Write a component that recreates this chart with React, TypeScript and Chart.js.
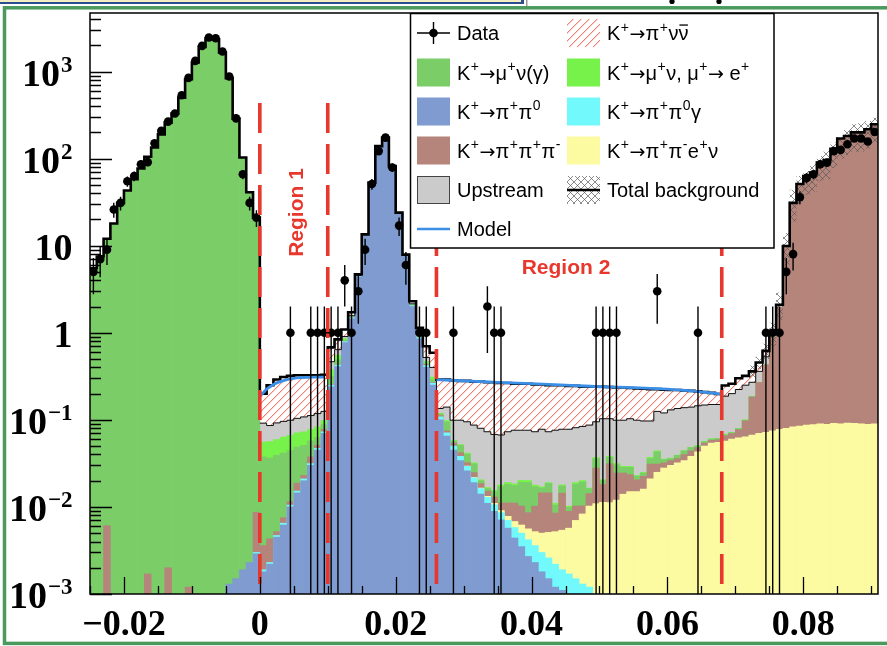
import React, { useEffect, useRef } from 'react';
import { Chart, registerables } from 'chart.js';

Chart.register(...registerables);

// ---------------- axis / binning ----------------
const X_MIN = -0.025;
const X_MAX = 0.091;
const BIN_W = 0.001;
const Y_MIN = 1e-3;
const Y_MAX = 4700;
const binLow: number[] = Array.from({ length: 116 }, (_, i) => Math.round((X_MIN + BIN_W * i) * 1e6) / 1e6);

const xTickValues = [-0.02, 0, 0.02, 0.04, 0.06, 0.08];
const xTickLabels = ['\u22120.02', '0', '0.02', '0.04', '0.06', '0.08'];
const yTickValues = [1e-3, 1e-2, 1e-1, 1, 10, 100, 1000];
const yTickBase = ['10', '10', '10', '1', '10', '10', '10'];
const yTickExp = ['\u22123', '\u22122', '\u22121', '', '', '2', '3'];
const regionEdges = [0, 0.01, 0.026, 0.068];

// ---------------- series (per 0.001 bin, own contribution) ----------------
const pp0 = [
  0, 0, 0, 0, 0, 0, 0, 0, 0, 0,
  0, 0, 0, 0, 0, 0, 0, 0, 0, 0,
  0.0013, 0.0015, 0.0019, 0.0023, 0.0029, 0.0018, 0.0022, 0.0045, 0.0062, 0.010,
  0.0145, 0.020, 0.030, 0.045, 0.07, 0.24, 0.41, 0.77, 1.45, 4.4,
  13.2, 52.6, 138.5, 173.5, 81.5, 23.6, 7.6, 2.0, 0.85, 0.40,
  0.25, 0.10, 0.065, 0.045, 0.034, 0.026, 0.019, 0.014, 0.011, 0.0089,
  0.0071, 0.0057, 0.0044, 0.0035, 0.0027, 0.0023, 0.0018, 0.0015, 0.0012, 0.0011,
  0.001, 0.0009, 0.0008, 0.0007, 0, 0, 0, 0, 0, 0,
  0, 0, 0, 0, 0, 0, 0, 0, 0, 0,
  0, 0, 0, 0, 0, 0, 0, 0, 0, 0,
  0, 0, 0, 0, 0, 0, 0, 0, 0, 0,
  0, 0, 0, 0, 0, 0,
];
const pp0g = [
  0, 0, 0, 0, 0, 0, 0, 0, 0, 0,
  0, 0, 0, 0, 0, 0, 0, 0, 0, 0,
  0, 0, 0, 0, 0.0001, 0.0001, 0.0001, 0.0002, 0.0003, 0.0005,
  0.0007, 0.001, 0.0015, 0.002, 0.003, 0.01, 0.015, 0.02, 0.03, 0.05,
  0.1, 0.2, 0.3, 0.3, 0.3, 0.2, 0.1, 0.05, 0.03, 0.02,
  0.015, 0.008, 0.006, 0.005, 0.004, 0.0032, 0.0026, 0.0022, 0.0019, 0.0017,
  0.0015, 0.0013, 0.0014, 0.0015, 0.0015, 0.0013, 0.0012, 0.0011, 0.001, 0.0008,
  0.0007, 0.0006, 0.0005, 0.0005, 0.0004, 0.0003, 0.0002, 0, 0, 0,
  0, 0, 0, 0, 0, 0, 0, 0, 0, 0,
  0, 0, 0, 0, 0, 0, 0, 0, 0, 0,
  0, 0, 0, 0, 0, 0, 0, 0, 0, 0,
  0, 0, 0, 0, 0, 0,
];
const ke4 = [
  0, 0, 0, 0, 0, 0, 0, 0, 0, 0,
  0, 0, 0, 0, 0, 0, 0, 0, 0, 0,
  0, 0, 0, 0, 0, 0, 0, 0, 0, 0,
  0, 0, 0, 0, 0, 0, 0, 0, 0, 0,
  0, 0, 0, 0, 0, 0, 0, 0, 0, 0,
  0, 0, 0, 0, 0, 0.0002, 0.0002, 0.0003, 0.0003, 0.0004,
  0.0005, 0.0008, 0.001, 0.0012, 0.0014, 0.0016, 0.002, 0.0025, 0.003, 0.0035,
  0.004, 0.0055, 0.007, 0.009, 0.0105, 0.011, 0.011, 0.012, 0.014, 0.015,
  0.015, 0.016, 0.021, 0.025, 0.028, 0.03, 0.032, 0.034, 0.038, 0.043,
  0.05, 0.054, 0.055, 0.057, 0.06, 0.062, 0.064, 0.067, 0.07, 0.072,
  0.075, 0.078, 0.08, 0.083, 0.085, 0.087, 0.088, 0.09, 0.089, 0.091,
  0.09, 0.092, 0.091, 0.09, 0.089, 0.09,
];
const k3pi = [
  0, 0, 0.0061, 0, 0, 0, 0, 0, 0.0017, 0,
  0, 0.002, 0, 0, 0.0012, 0, 0, 0, 0, 0,
  0, 0, 0, 0, 0.0057, 0.0017, 0.002, 0.0005, 0.001, 0.001,
  0.0035, 0.002, 0.006, 0.004, 0.005, 0.005, 0.005, 0.005, 0.01, 0.01,
  0.01, 0.02, 0.02, 0.02, 0.02, 0.01, 0.01, 0.01, 0.01, 0.01,
  0.005, 0.004, 0.004, 0.004, 0.004, 0.003, 0.003, 0.002, 0.002, 0.002,
  0.002, 0.0033, 0.0043, 0.004, 0.003, 0.005, 0.0095, 0.0094, 0.0033, 0.009,
  0.0032, 0.0032, 0.002, 0.004, 0.017, 0.0068, 0.020, 0.0125, 0.0105, 0.0085,
  0.0055, 0.0065, 0.01, 0.006, 0.004, 0.004, 0.004, 0.006, 0.006, 0.005,
  0.004, 0.004, 0.004, 0.0085, 0.0095, 0.0155, 0.0335, 0.1155, 0.1975, 0.3555,
  0.8125, 1.88, 9.69, 30.8, 50.8, 62.8, 68.8, 89.8, 95.8, 129.8,
  169.8, 181.8, 199.8, 199.8, 216.8, 247.8,
];
const mu2 = [
  5.5, 7.5, 12, 18, 31, 43, 58, 77, 105, 134,
  190, 259, 329, 502, 815, 1268, 1919, 2394, 2350, 1652,
  840, 288, 103, 41, 21, 0.034, 0.032, 0.034, 0.034, 0.033,
  0.03, 0.028, 0.02, 0.012, 0.01, 0.06, 0.06, 0.03, 0.02, 0.02,
  0.02, 0.02, 0.02, 0.02, 0.02, 0.02, 0.02, 0.02, 0.02, 0.02,
  0.02, 0.005, 0.02, 0.003, 0.009, 0.008, 0.0065, 0.0015, 0.001, 0.002,
  0.006, 0.007, 0.0065, 0.009, 0.0105, 0.0068, 0.002, 0.004, 0.002, 0.003,
  0.001, 0.008, 0.009, 0.002, 0.008, 0.002, 0.006, 0.006, 0.004, 0.005,
  0.002, 0.002, 0.005, 0.012, 0.003, 0.002, 0.003, 0.004, 0.004, 0.002,
  0.002, 0.002, 0.002, 0.002, 0.002, 0.002, 0.002, 0.002, 0.002, 0.002,
  0.002, 0.002, 0.002, 0.002, 0.002, 0.002, 0.002, 0.002, 0.002, 0.002,
  0.002, 0.002, 0.002, 0.002, 0.002, 0.002,
];
const mu2e = [
  0, 0, 0, 0, 0, 0, 0, 0, 0, 0,
  0, 0, 0, 0, 0, 0, 0, 0, 0, 0,
  0, 0, 0, 0, 0, 0.018, 0.02, 0.02, 0.022, 0.022,
  0.022, 0.022, 0.02, 0.02, 0.01, 0.06, 0.06, 0.03, 0.02, 0.02,
  0.02, 0.01, 0.01, 0.01, 0.01, 0.01, 0.01, 0.02, 0.02, 0.02,
  0.02, 0.002, 0.003, 0.001, 0.001, 0.001, 0.0008, 0.0005, 0.0005, 0.0005,
  0.0008, 0.001, 0.0008, 0.001, 0.001, 0.0008, 0.0005, 0.0005, 0.0005, 0.0005,
  0.0003, 0.0008, 0.0008, 0.0003, 0.001, 0.0005, 0.001, 0.001, 0.0008, 0.0008,
  0.0005, 0.0005, 0.001, 0.001, 0.0005, 0.0005, 0.0005, 0.0005, 0.0005, 0.0005,
  0.0005, 0.0005, 0.0005, 0.0005, 0.0005, 0.0005, 0.0005, 0.0005, 0.0005, 0.0005,
  0.0005, 0.0005, 0.0005, 0.0005, 0.0005, 0.0005, 0.0005, 0.0005, 0.0005, 0.0005,
  0.0005, 0.0005, 0.0005, 0.0005, 0.0005, 0.0005,
];
const upstream = [
  0, 0, 0, 0, 0, 0, 0, 0, 0, 0,
  0, 0, 0, 0, 0, 0, 0, 0, 0, 0,
  0, 0, 0, 0, 0, 0.036, 0.0297, 0.033, 0.0325, 0.0325,
  0.0333, 0.035, 0.0345, 0.035, 0.027, 0.09, 0.09, 0.05, 0.04, 0.05,
  0.05, 0.05, 0.05, 0.05, 0.05, 0.05, 0.05, 0.05, 0.05, 0.05,
  0.09, 0.016, 0.042, 0.041, 0.047, 0.0536, 0.0549, 0.0595, 0.0563, 0.0525,
  0.0491, 0.0539, 0.0576, 0.0558, 0.0559, 0.0552, 0.061, 0.054, 0.065, 0.0601,
  0.0678, 0.0622, 0.0639, 0.0705, 0.0581, 0.0824, 0.0648, 0.0675, 0.0697, 0.0737,
  0.076, 0.072, 0.06, 0.081, 0.0845, 0.0935, 0.0955, 0.0935, 0.0915, 0.0945,
  0.0915, 0.0895, 0.0885, 0.119, 0.128, 0.143, 0.15, 0.085, 0.09, 0.10,
  0.1, 0.1, 0.1, 0.1, 0.1, 0.1, 0.1, 0.1, 0.1, 0.1,
  0.1, 0.1, 0.1, 0.1, 0.1, 0.1,
];
const pnn = [
  0, 0, 0, 0, 0, 0, 0, 0, 0, 0,
  0, 0, 0, 0, 0, 0, 0, 0, 0, 0,
  0, 0, 0, 0, 0, 0.108, 0.164, 0.198, 0.214, 0.221,
  0.221, 0.217, 0.213, 0.207, 0.205, 0.215, 0.2, 0.185, 0.15, 0.15,
  0.1, 0.1, 0.1, 0.1, 0.1, 0.1, 0.1, 0.15, 0.16, 0.18,
  0.19, 0.155, 0.15, 0.186, 0.181, 0.185, 0.188, 0.195, 0.197, 0.202,
  0.198, 0.192, 0.184, 0.184, 0.184, 0.182, 0.177, 0.177, 0.174, 0.172,
  0.167, 0.164, 0.156, 0.153, 0.145, 0.137, 0.135, 0.136, 0.136, 0.129,
  0.131, 0.131, 0.128, 0.10, 0.102, 0.09, 0.085, 0.08, 0.075, 0.067,
  0.06, 0.054, 0.048, 0.061, 0.06, 0.077, 0.07, 0.09, 0.095, 0.09,
  0.06, 0.04, 0.03, 0.02, 0.02, 0.02, 0.02, 0.02, 0.02, 0.02,
  0.02, 0.02, 0.02, 0.02, 0.02, 0.02,
];
const dataCounts = [
  5, 7, 9, 26, 31, 55, 63, 86, 91, 150,
  208, 266, 329, 534, 845, 1324, 1972, 2460, 2415, 1698,
  876, 290, 66, 31, 21, 0, 0, 0, 0, 1,
  0, 0, 1, 1, 1, 1, 1, 4, 1, 3,
  9, 51, 122, 174, 79, 17, 6, 0, 1, 1,
  0, 0, 0, 1, 0, 0, 0, 0, 2, 1,
  1, 0, 0, 0, 0, 0, 0, 0, 0, 0,
  0, 0, 0, 0, 1, 1, 1, 1, 0, 0,
  0, 0, 0, 3, 0, 0, 0, 0, 0, 1,
  0, 0, 0, 0, 0, 0, 0, 0, 0, 1,
  1, 1, 5, 8, 36, 60, 66, 86, 90, 122,
  126, 146, 170, 170, 157, 202,
];
// total background uncertainty band, bins 97..115
const bandFirstBin = 97;
const bandLo = [0.3, 0.38, 0.5, 0.7, 1.4, 6, 19, 30, 38, 42, 55, 58, 78, 100, 110, 120, 120, 130, 150];
const bandHi = [0.42, 0.53, 0.75, 1.3, 2.9, 14, 44, 63, 72, 86, 107, 122, 153, 182, 217, 248, 255, 270, 295];
// model curve
const modelX1 = [0, 0.0005, 0.001, 0.0015, 0.002, 0.003, 0.004, 0.005, 0.006, 0.008, 0.0095];
const modelY1 = [0.185, 0.205, 0.225, 0.24, 0.255, 0.275, 0.29, 0.30, 0.305, 0.31, 0.31];
const modelX2 = [0.026, 0.028, 0.03, 0.035, 0.04, 0.045, 0.05, 0.055, 0.06, 0.065, 0.068];
const modelY2 = [0.29, 0.285, 0.28, 0.27, 0.26, 0.25, 0.24, 0.235, 0.225, 0.21, 0.197];

const legendLabels = [
  'Data', 'K^{+}\u2192\u03c0^{+}\u03bd\\bar{\u03bd}',
  'K^{+}\u2192\u03bc^{+}\u03bd(\u03b3)', 'K^{+}\u2192\u03bc^{+}\u03bd, \u03bc^{+}\u2192 e^{+}',
  'K^{+}\u2192\u03c0^{+}\u03c0^{0}', 'K^{+}\u2192\u03c0^{+}\u03c0^{0}\u03b3',
  'K^{+}\u2192\u03c0^{+}\u03c0^{+}\u03c0^{-}', 'K^{+}\u2192\u03c0^{+}\u03c0^{-}e^{+}\u03bd',
  'Upstream', 'Total background', 'Model',
];

// ---------------- styles ----------------
const C_MU2 = '#7bcd68';
const C_MU2E = '#77f24b';
const C_PP0 = '#7f9bcf';
const C_PP0G = '#72f9fb';
const C_KE4 = '#fdfba2';
const C_K3PI = '#b5847a';
const C_UP = '#cbcbcb';
const C_MODEL = '#3b8fe6';
const C_RED = '#e8372c';
const SERIF = '"Liberation Serif", "Times New Roman", serif';
const SANS = '"Liberation Sans", Arial, Helvetica, sans-serif';
const ARROW_FONT = '"DejaVu Sans", "Liberation Sans", sans-serif';

function makeHatch(ctx: CanvasRenderingContext2D, cross: boolean) {
  const c = document.createElement('canvas');
  const s = cross ? 7 : 8;
  c.width = s; c.height = s;
  const g = c.getContext('2d')!;
  if (!cross) { g.fillStyle = '#ffffff'; g.fillRect(0, 0, s, s); }
  for (let i = 0; i < s; i++) {
    if (cross) {
      g.fillStyle = 'rgba(90,90,90,0.7)';
      g.fillRect(i, s - 1 - i, 1, 1);
      g.fillRect(i, i, 1, 1);
    } else {
      g.fillStyle = 'rgb(244,128,116)';
      g.fillRect(i, s - 1 - i, 1, 1);
      g.fillStyle = 'rgba(244,128,116,0.35)';
      g.fillRect((i + 1) % s, s - 1 - i, 1, 1);
    }
  }
  return ctx.createPattern(c, 'repeat')!;
}

function drawRich(c: CanvasRenderingContext2D, s: string, x: number, y: number, size: number) {
  const base = `${size}px ${SANS}`;
  const sup = `${Math.round(size * 0.68)}px ${SANS}`;
  const arrow = `${Math.round(size * 0.95)}px ${ARROW_FONT}`;
  const re = /\^\{([^}]*)\}|\\bar\{([^}]*)\}|(\u2192)/g;
  let last = 0;
  let cx = x;
  let m: RegExpExecArray | null;
  c.textAlign = 'left';
  c.textBaseline = 'alphabetic';
  while ((m = re.exec(s))) {
    const plain = s.slice(last, m.index);
    c.font = base; c.fillText(plain, cx, y); cx += c.measureText(plain).width;
    if (m[1] !== undefined) {
      c.font = sup; c.fillText(m[1], cx + 0.5, y - size * 0.42); cx += c.measureText(m[1]).width + 1;
    } else if (m[2] !== undefined) {
      c.font = base;
      const w = c.measureText(m[2]).width;
      c.fillText(m[2], cx, y);
      c.fillRect(cx + 1, y - size * 0.78, w - 1.5, 1.3);
      cx += w;
    } else {
      c.font = arrow; c.fillText(m[3], cx, y); cx += c.measureText(m[3]).width;
    }
    last = re.lastIndex;
  }
  c.font = base; c.fillText(s.slice(last), cx, y);
}

export default function App() {
  const ref = useRef<HTMLCanvasElement>(null);

  useEffect(() => {
    const canvas = ref.current!;
    const ctx = canvas.getContext('2d')!;
    const hatch = makeHatch(ctx, false);
    const crossHatch = makeHatch(ctx, true);

    const N = binLow.length;
    const centers = binLow.map((e) => e + BIN_W / 2);
    const layers = [pp0, pp0g, ke4, k3pi, mu2, mu2e, upstream, pnn];
    const layerColors: any[] = [C_PP0, C_PP0G, C_KE4, C_K3PI, C_MU2, C_MU2E, C_UP, hatch];
    const cum: number[][] = [];
    layers.forEach((arr, k) => cum.push(arr.map((v, i) => v + (k ? cum[k - 1][i] : 0))));
    const total = cum[layers.length - 1];

    const stepPts = (vals: number[], from: number, to: number) => {
      const pts: any[] = [];
      for (let i = from; i <= to; i++) pts.push({ x: binLow[i], y: vals[i] });
      pts.push({ x: binLow[to] + BIN_W, y: vals[to] });
      return pts;
    };

    const barSets = layers.map((arr, k) => ({
      type: 'bar',
      data: centers.map((x, i) => ({ x, y: arr[i] > 0 ? cum[k][i] : null })),
      backgroundColor: layerColors[k],
      borderWidth: 0,
      barPercentage: 1,
      categoryPercentage: 1,
      order: 10 + k,
    }));

    const bandLoFull = bandLo.concat([bandLo[bandLo.length - 1]]);
    const bandHiFull = bandHi.concat([bandHi[bandHi.length - 1]]);
    const bandXs = bandLo.map((_, j) => binLow[bandFirstBin + j]).concat([binLow[bandFirstBin + bandLo.length - 1] + BIN_W]);

    const lineCommon = { type: 'line', pointRadius: 0, stepped: true, fill: false, spanGaps: false };

    const datasets: any[] = [
      ...barSets,
      { ...lineCommon, data: bandXs.map((x, j) => ({ x, y: bandLoFull[j] })), borderWidth: 0, borderColor: 'rgba(0,0,0,0)', order: 7 },
      { ...lineCommon, data: bandXs.map((x, j) => ({ x, y: bandHiFull[j] })), borderWidth: 0, borderColor: 'rgba(0,0,0,0)', backgroundColor: crossHatch, fill: '-1', order: 6 },
      { ...lineCommon, data: stepPts(cum[6], 25, 101), borderColor: '#111', borderWidth: 1, order: 5 },
      { ...lineCommon, data: stepPts(total, 0, N - 1), borderColor: '#000', borderWidth: 2.6, order: 4 },
      {
        type: 'line', pointRadius: 0, fill: false, spanGaps: false, cubicInterpolationMode: 'monotone',
        data: [
          ...modelX1.map((x, j) => ({ x, y: modelY1[j] })),
          { x: 0.018, y: null },
          ...modelX2.map((x, j) => ({ x, y: modelY2[j] })),
        ],
        borderColor: C_MODEL, borderWidth: 2.8, order: 3,
      },
      {
        type: 'line', showLine: false, pointRadius: 4.3, pointBackgroundColor: '#000', pointBorderWidth: 0,
        data: centers.map((x, i) => ({ x, y: dataCounts[i] })).filter((p) => p.y > 0), order: 2,
      },
    ];

    const decor = {
      id: 'decor',
      beforeDraw(chart: any) {
        const c = chart.ctx as CanvasRenderingContext2D;
        c.save();
        c.fillStyle = '#ffffff'; c.fillRect(0, 0, chart.width, chart.height);
        c.fillStyle = '#f3edc6'; c.fillRect(0, 0, 524, 2);
        c.fillStyle = '#2c4d8e'; c.fillRect(0, 2, 524, 2); c.fillRect(521, 0, 3, 4);
        c.fillStyle = '#9a9a9a'; c.fillRect(526, 0, 1.5, 7);
        c.fillStyle = '#000';
        [672, 719].forEach((px) => { c.beginPath(); c.arc(px, 1.5, 2.6, 0, Math.PI * 2); c.fill(); });
        c.strokeStyle = '#4a9a5d'; c.lineWidth = 3.5; c.strokeRect(4.5, 7.8, 1000, 635.6);
        c.restore();
      },
      afterDatasetsDraw(chart: any) {
        const c = chart.ctx as CanvasRenderingContext2D;
        const a = chart.chartArea;
        const xs = chart.scales.x; const ys = chart.scales.y;
        c.save();
        c.beginPath(); c.rect(a.left, a.top, a.right - a.left, a.bottom - a.top); c.clip();
        c.strokeStyle = C_RED; c.lineWidth = 3.6; c.setLineDash([30, 11]);
        regionEdges.forEach((r) => {
          const px = xs.getPixelForValue(r);
          c.beginPath(); c.moveTo(px, 103); c.lineTo(px, a.bottom); c.stroke();
        });
        c.setLineDash([]);
        c.strokeStyle = '#000'; c.lineWidth = 1.4;
        dataCounts.forEach((n, i) => {
          if (n <= 0) return;
          const px = xs.getPixelForValue(centers[i]);
          const e = Math.sqrt(n);
          const yHi = ys.getPixelForValue(n + e);
          const yLo = n - e > 0 ? ys.getPixelForValue(n - e) : a.bottom;
          const py = ys.getPixelForValue(n);
          c.beginPath();
          c.moveTo(px, yHi); c.lineTo(px, yLo);
          c.moveTo(xs.getPixelForValue(binLow[i]), py); c.lineTo(xs.getPixelForValue(binLow[i] + BIN_W), py);
          c.stroke();
        });
        c.restore();
        // region labels
        c.save();
        c.fillStyle = C_RED; c.font = `bold 21px ${SANS}`; c.textAlign = 'center'; c.textBaseline = 'middle';
        c.translate(297, 212.5); c.rotate(-Math.PI / 2); c.fillText('Region 1', 0, 0);
        c.restore();
        c.save();
        c.fillStyle = C_RED; c.font = `bold 21px ${SANS}`; c.textAlign = 'center'; c.textBaseline = 'middle';
        c.fillText('Region 2', 566, 268.5);
        c.restore();
      },
      afterDraw(chart: any) {
        const c = chart.ctx as CanvasRenderingContext2D;
        const a = chart.chartArea;
        const xs = chart.scales.x; const ys = chart.scales.y;
        c.save();
        // ticks
        c.strokeStyle = '#000'; c.lineWidth = 1.3;
        c.beginPath();
        for (let e = -3; e <= 3; e++) {
          for (let m = 1; m <= 9; m++) {
            const v = m * Math.pow(10, e);
            if (v < Y_MIN || v > Y_MAX) continue;
            const py = Math.round(ys.getPixelForValue(v)) + 0.5;
            const len = m === 1 ? 22 : 11;
            c.moveTo(a.left, py); c.lineTo(a.left + len, py);
          }
        }
        for (let k = -5; k <= 18; k++) {
          const v = k * 0.005;
          if (v < X_MIN - 1e-9 || v > X_MAX + 1e-9) continue;
          const px = Math.round(xs.getPixelForValue(v)) + 0.5;
          const len = k % 4 === 0 ? 17 : 8;
          c.moveTo(px, a.bottom); c.lineTo(px, a.bottom - len);
        }
        c.stroke();
        // frame
        c.lineWidth = 1.5;
        c.strokeRect(a.left, a.top, a.right - a.left, a.bottom - a.top);
        // x labels
        c.fillStyle = '#000';
        c.font = `bold 36px ${SERIF}`; c.textAlign = 'center'; c.textBaseline = 'alphabetic';
        xTickValues.forEach((v, i) => c.fillText(xTickLabels[i], xs.getPixelForValue(v), 635));
        // y labels
        yTickValues.forEach((v, i) => {
          const py = ys.getPixelForValue(v);
          const right = 72.5;
          c.textAlign = 'left';
          c.font = `bold 23px ${SERIF}`;
          const ew = yTickExp[i] ? c.measureText(yTickExp[i]).width + 1 : 0;
          c.font = `bold 38px ${SERIF}`;
          const bw = c.measureText(yTickBase[i]).width;
          const x0 = right - ew - bw;
          c.fillText(yTickBase[i], x0, py + 14);
          if (yTickExp[i]) { c.font = `bold 23px ${SERIF}`; c.fillText(yTickExp[i], x0 + bw + 1, py); }
        });
        // legend
        const L = { x0: 410.5, y0: 13.5, x1: 774, y1: 248 };
        c.fillStyle = '#fff'; c.fillRect(L.x0, L.y0, L.x1 - L.x0, L.y1 - L.y0);
        c.strokeStyle = '#000'; c.lineWidth = 1.5; c.strokeRect(L.x0, L.y0, L.x1 - L.x0, L.y1 - L.y0);
        const rows = [33, 72.5, 111.5, 150.5, 190, 229];
        const sx = [417, 567]; const tx = [457, 607];
        const sw = 33; const sh = 28;
        const symbols: any[] = ['data', 'hatch', C_MU2, C_MU2E, C_PP0, C_PP0G, C_K3PI, C_KE4, 'up', 'total', 'model'];
        legendLabels.forEach((lab, k) => {
          const col = k % 2; const row = Math.floor(k / 2);
          const cy = rows[row]; const x = sx[col];
          const sym = symbols[k];
          c.save();
          if (sym === 'data') {
            c.strokeStyle = '#000'; c.lineWidth = 1.4;
            c.beginPath(); c.moveTo(x, cy); c.lineTo(x + sw, cy); c.moveTo(x + sw / 2, cy - 11); c.lineTo(x + sw / 2, cy + 11); c.stroke();
            c.fillStyle = '#000'; c.beginPath(); c.arc(x + sw / 2, cy, 4.3, 0, Math.PI * 2); c.fill();
          } else if (sym === 'hatch') {
            c.fillStyle = hatch; c.fillRect(x, cy - sh / 2, sw, sh);
          } else if (sym === 'up') {
            c.fillStyle = C_UP; c.fillRect(x, cy - sh / 2, sw, sh);
            c.strokeStyle = '#444'; c.lineWidth = 1; c.strokeRect(x + 0.5, cy - sh / 2 + 0.5, sw - 1, sh - 1);
          } else if (sym === 'total') {
            c.fillStyle = crossHatch; c.fillRect(x, cy - sh / 2, sw, sh);
            c.strokeStyle = '#000'; c.lineWidth = 2.6; c.beginPath(); c.moveTo(x, cy); c.lineTo(x + sw, cy); c.stroke();
          } else if (sym === 'model') {
            c.strokeStyle = C_MODEL; c.lineWidth = 2.6; c.beginPath(); c.moveTo(x, cy); c.lineTo(x + sw, cy); c.stroke();
          } else {
            c.fillStyle = sym; c.fillRect(x, cy - sh / 2, sw, sh);
          }
          c.restore();
          c.fillStyle = '#000';
          drawRich(c, lab, tx[col], cy + 7, 20);
        });
        c.restore();
      },
    };

    const chart = new Chart(ctx, {
      type: 'bar',
      data: { datasets },
      options: {
        responsive: false,
        devicePixelRatio: 1,
        animation: false,
        events: [],
        layout: { padding: { left: 90, top: 13, right: 9, bottom: 52 } },
        plugins: { legend: { display: false }, tooltip: { enabled: false } },
        scales: {
          x: { type: 'linear', min: X_MIN, max: X_MAX, offset: false, stacked: true, display: false },
          y: { type: 'logarithmic', min: Y_MIN, max: Y_MAX, stacked: false, display: false },
        },
      },
      plugins: [decor],
    } as any);
    return () => chart.destroy();
  }, []);

  return (
    <div style={{ position: 'fixed', left: 0, top: 0, width: 887, height: 646, background: '#fff' }}>
      <canvas ref={ref} width={887} height={646} style={{ width: 887, height: 646, display: 'block' }} />
    </div>
  );
}
